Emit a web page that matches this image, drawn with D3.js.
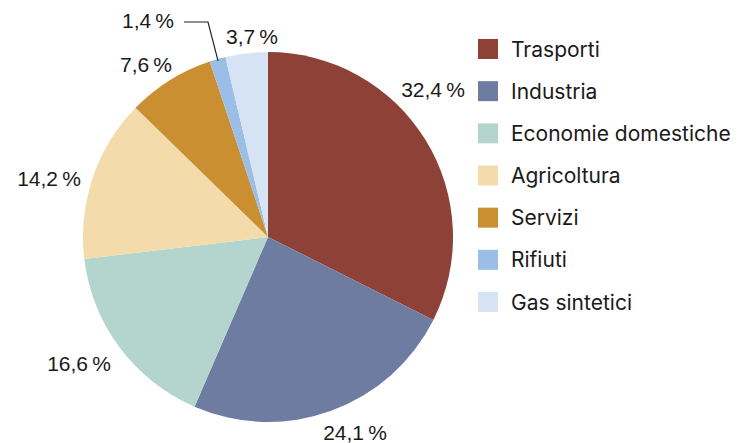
<!DOCTYPE html>
<html>
<head>
<meta charset="utf-8">
<script src="https://cdn.jsdelivr.net/npm/d3@7"></script>
<style>
  body { margin: 0; background: #fff; }
  svg { display: block; }
</style>
</head>
<body>
<div id="chart"></div>
<script>
// ============================
// Data
// ============================
const categories = ["Trasporti", "Industria", "Economie domestiche", "Agricoltura", "Servizi", "Rifiuti", "Gas sintetici"];
const shares = [32.4, 24.1, 16.6, 14.2, 7.6, 1.4, 3.7];
const colors = ["#8e4237", "#6e7ca1", "#b4d5ce", "#f3dbab", "#c98f31", "#9bbee6", "#d6e3f4"];
// label positions (x, baseline y) in px
const labelPos = [[433, 97], [355, 440], [79, 371], [49, 186], [146, 72], [148, 28], [252, 44]];

const width = 747, height = 443;
const cx = 268, cy = 237, r = 185;

function drawPie() {
  const svg = d3.select("#chart").append("svg")
    .attr("width", width).attr("height", height);

  const pie = d3.pie().sort(null).value(d => d);
  const arc = d3.arc().innerRadius(0).outerRadius(r);
  const arcs = pie(shares);

  // slices
  svg.append("g")
    .attr("transform", `translate(${cx},${cy})`)
    .selectAll("path")
    .data(arcs)
    .join("path")
    .attr("d", arc)
    .attr("fill", (d, i) => colors[i]);

  // leader line for Rifiuti
  const rif = arcs[5];
  const mid = (rif.startAngle + rif.endAngle) / 2;
  const px = cx + Math.sin(mid) * (r - 2), py = cy - Math.cos(mid) * (r - 2);
  svg.append("path")
    .attr("d", `M${px},${py}L208,22L184,22`)
    .attr("fill", "none")
    .attr("stroke", "#222")
    .attr("stroke-width", 1.2);

  // percentage labels
  const fmt = v => d3.format(".1f")(v).replace(".", ",") + "\u2009%";
  svg.append("g")
    .attr("font-family", "'Liberation Sans', Arial, sans-serif")
    .attr("font-size", 21)
    .attr("fill", "#1a1a1a")
    .attr("text-anchor", "middle")
    .selectAll("text")
    .data(shares)
    .join("text")
    .attr("x", (d, i) => labelPos[i][0])
    .attr("y", (d, i) => labelPos[i][1])
    .text(d => fmt(d));

  // legend
  const y = d3.scalePoint().domain(categories).range([49, 302]);
  const legend = svg.append("g")
    .attr("font-family", "Inter, 'Noto Sans', sans-serif")
    .attr("font-size", 21)
    .attr("fill", "#1a1a1a");
  const row = legend.selectAll("g")
    .data(categories)
    .join("g")
    .attr("transform", d => `translate(478,${y(d)})`);
  row.append("rect")
    .attr("x", 0).attr("y", -10)
    .attr("width", 20).attr("height", 20)
    .attr("fill", (d, i) => colors[i]);
  row.append("text")
    .attr("x", 33).attr("y", 7.5)
    .text(d => d);
}

drawPie();
</script>
</body>
</html>
